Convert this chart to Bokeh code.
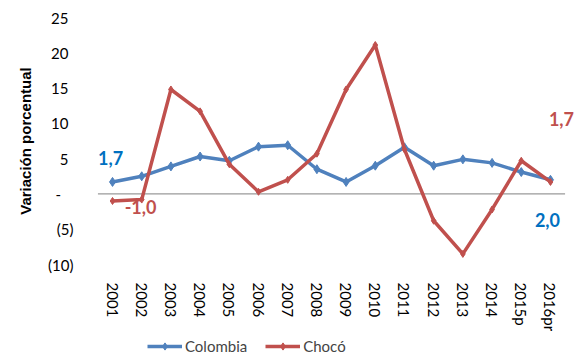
from bokeh.plotting import figure
from bokeh.layouts import column
from bokeh.models import FixedTicker, Legend, LegendItem, ColumnDataSource, Label
from bokeh.embed import file_html
from bokeh.resources import INLINE

years = ["2001", "2002", "2003", "2004", "2005", "2006", "2007", "2008",
         "2009", "2010", "2011", "2012", "2013", "2014", "2015p", "2016pr"]
colombia = [1.7, 2.5, 3.9, 5.3, 4.7, 6.7, 6.9, 3.5, 1.7, 4.0, 6.6, 4.0, 4.9, 4.4, 3.1, 2.0]
choco = [-1.0, -0.8, 14.8, 11.7, 4.2, 0.3, 2.0, 5.7, 14.8, 21.1, 6.3, -3.8, -8.5, -2.2, 4.7, 1.7]
y_ticks = [-10, -5, 0, 5, 10, 15, 20, 25]
y_tick_labels = ["(10)", "(5)", "-\u2002\u2004", "5\u2004", "10\u2004", "15\u2004", "20\u2004", "25\u2004"]

BLUE = "#4F81BD"
RED = "#C0504D"
FONT = "Lato"

p = figure(width=578, height=334, x_range=years, y_range=(-10, 25),
           output_backend="svg", toolbar_location=None,
           min_border_left=84, min_border_right=0, min_border_top=17, min_border_bottom=66)
# extra room on the sides so the end labels are not clipped
p.x_range.range_padding_units = "absolute"
p.x_range.range_padding = 0.46
p.outline_line_color = None
p.xgrid.grid_line_color = None
p.ygrid.grid_line_color = None
p.background_fill_color = "white"
p.border_fill_color = "white"

# axes
p.yaxis.ticker = FixedTicker(ticks=y_ticks)
p.yaxis.major_label_overrides = {t: l for t, l in zip(y_ticks, y_tick_labels)}
for ax in (p.xaxis[0], p.yaxis[0]):
    ax.axis_line_color = None
    ax.major_tick_line_color = None
    ax.minor_tick_line_color = None
    ax.major_label_text_font = FONT
    ax.major_label_text_font_size = "15px"
    ax.major_label_text_color = "#000000"
p.yaxis.major_label_standoff = 5
p.yaxis.axis_label = "Variación porcentual"
p.yaxis.axis_label_text_font = "Liberation Sans"
p.yaxis.axis_label_text_font_size = "15px"
p.yaxis.axis_label_text_font_style = "bold"
p.yaxis.axis_label_text_color = "#000000"
p.yaxis.axis_label_standoff = 11
p.xaxis.major_label_orientation = "vertical"
p.xaxis.major_label_standoff = 12

# zero line across the category band (synthetic coords 0 .. number of categories)
p.line(x=[0, len(years)], y=[0, 0], line_color="#9A9A9A", line_width=1.2)

src = ColumnDataSource(dict(x=years, col=colombia, cho=choco))
p.line("x", "col", source=src, line_color=BLUE, line_width=3.5)
p.scatter("x", "col", source=src, marker="diamond", size=9, color=BLUE)
p.line("x", "cho", source=src, line_color=RED, line_width=3.5)
p.scatter("x", "cho", source=src, marker="diamond", size=7, color=RED)

# data labels at first and last points (categorical synthetic coordinate = index + 0.5)
def label(i, y, txt, color, dx, dy):
    p.add_layout(Label(x=i + 0.5, y=y, text=txt, text_color=color, text_font=FONT,
                       text_font_size="18px", text_font_style="bold", text_align="center",
                       text_baseline="middle", x_offset=dx, y_offset=-dy))

last = len(years) - 1
label(0, colombia[0], "1,7", "#0070C0", -2, -24)
label(0, choco[0], "-1,0", RED, 28, 6)
label(last, colombia[last], "2,0", "#0070C0", -3, 40)
label(last, choco[last], "1,7", RED, 11, -63)

# legend strip (proxy renderers, hidden; legend drawn normally)
leg = figure(width=578, height=22, x_range=years, y_range=(-10, 25),
             output_backend="svg", toolbar_location=None,
             x_axis_location=None, y_axis_location=None,
             min_border_left=0, min_border_right=0, min_border_top=0, min_border_bottom=0)
leg.grid.visible = False
leg.outline_line_color = None
lsrc = ColumnDataSource(dict(x=years, col=colombia, cho=choco))
a1 = leg.line("x", "col", source=lsrc, line_color=BLUE, line_width=3.5, visible=False)
b1 = leg.scatter("x", "col", source=lsrc, marker="diamond", size=9, color=BLUE, visible=False)
a2 = leg.line("x", "cho", source=lsrc, line_color=RED, line_width=3.5, visible=False)
b2 = leg.scatter("x", "cho", source=lsrc, marker="diamond", size=7, color=RED, visible=False)
legend = Legend(items=[LegendItem(label="Colombia", renderers=[a1, b1]),
                       LegendItem(label="Chocó", renderers=[a2, b2])],
                location=(63, 1), orientation="horizontal",
                background_fill_alpha=0, border_line_color=None,
                inactive_fill_alpha=0,
                label_text_font=FONT, label_text_font_size="15px",
                glyph_width=35, glyph_height=18, label_standoff=3, spacing=18,
                padding=0, margin=0)
leg.add_layout(legend, "center")

layout = column(p, leg, spacing=0)
open("out.html", "w").write(file_html(layout, INLINE))
